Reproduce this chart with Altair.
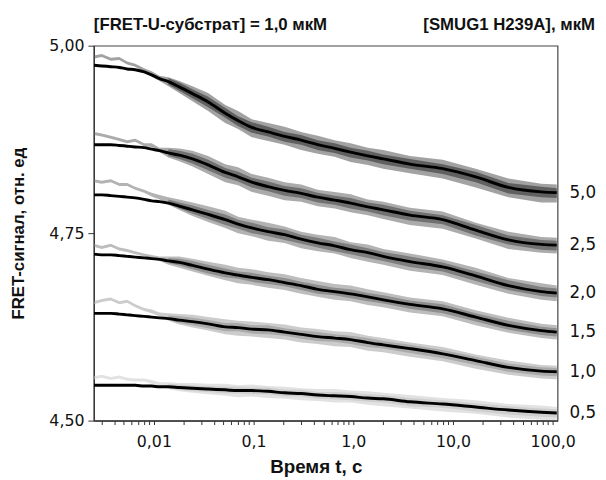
import altair as alt
import pandas as pd

# ---- data ----
times = [0.0025, 0.003, 0.0037, 0.0045, 0.0054, 0.0065, 0.008, 0.0095, 0.0114, 0.014,
         0.018, 0.0244, 0.035, 0.052, 0.07, 0.096, 0.14, 0.205, 0.3, 0.44,
         0.65, 0.94, 1.4, 2.0, 3.7, 7.9, 16.9, 36, 77, 110]

conc_labels = ["5,0", "2,5", "2,0", "1,5", "1,0", "0,5"]

fit_50 = [4.974, 4.973, 4.972, 4.971, 4.969, 4.968, 4.965, 4.961, 4.956, 4.952,
          4.945, 4.936, 4.925, 4.910, 4.900, 4.891, 4.885, 4.879, 4.874, 4.868,
          4.863, 4.858, 4.853, 4.849, 4.842, 4.836, 4.825, 4.811, 4.805, 4.804]
fit_25 = [4.868, 4.868, 4.868, 4.867, 4.866, 4.865, 4.864, 4.862, 4.860, 4.857,
          4.854, 4.849, 4.841, 4.831, 4.825, 4.818, 4.812, 4.807, 4.803, 4.798,
          4.794, 4.790, 4.785, 4.781, 4.774, 4.768, 4.754, 4.741, 4.735, 4.734]
fit_20 = [4.801, 4.801, 4.800, 4.799, 4.798, 4.797, 4.795, 4.793, 4.792, 4.790,
          4.786, 4.781, 4.775, 4.768, 4.762, 4.757, 4.752, 4.748, 4.742, 4.737,
          4.733, 4.728, 4.724, 4.719, 4.712, 4.705, 4.693, 4.680, 4.672, 4.670]
fit_15 = [4.722, 4.721, 4.721, 4.720, 4.719, 4.718, 4.717, 4.716, 4.715, 4.713,
          4.711, 4.707, 4.702, 4.697, 4.694, 4.691, 4.688, 4.684, 4.680, 4.675,
          4.672, 4.669, 4.665, 4.661, 4.655, 4.649, 4.638, 4.627, 4.620, 4.618]
fit_10 = [4.643, 4.643, 4.643, 4.642, 4.641, 4.640, 4.639, 4.638, 4.637, 4.636,
          4.634, 4.632, 4.629, 4.625, 4.624, 4.622, 4.621, 4.618, 4.615, 4.612,
          4.610, 4.608, 4.604, 4.601, 4.596, 4.589, 4.580, 4.571, 4.566, 4.565]
fit_05 = [4.547, 4.547, 4.547, 4.547, 4.547, 4.547, 4.546, 4.546, 4.545, 4.545,
          4.544, 4.543, 4.542, 4.541, 4.540, 4.540, 4.539, 4.537, 4.536, 4.534,
          4.533, 4.532, 4.530, 4.529, 4.525, 4.522, 4.518, 4.514, 4.511, 4.510]

# outer envelope of the raw signal (spikes), measured from the fitted curve
top_50 = [0.013, 0.016, 0.012, 0.014, 0.010, 0.008, 0.005, 0.005, 0.004, 0.006, 0.008, 0.010,
          0.012, 0.011, 0.013, 0.011, 0.012, 0.013, 0.011, 0.012, 0.011, 0.012, 0.011, 0.012,
          0.011, 0.012, 0.011, 0.012, 0.011, 0.011]
bot_50 = [0.009, 0.012, 0.008, 0.010, 0.006, 0.004, 0.000, -0.002, -0.003, -0.006, -0.008, -0.010,
          -0.012, -0.013, -0.011, -0.013, -0.012, -0.011, -0.013, -0.012, -0.011, -0.013, -0.012, -0.013,
          -0.012, -0.013, -0.014, -0.013, -0.014, -0.013]
top_25 = [0.017, 0.015, 0.012, 0.010, 0.008, 0.011, 0.006, 0.008, 0.004, 0.007, 0.009, 0.011,
          0.012, 0.011, 0.013, 0.011, 0.012, 0.011, 0.012, 0.010, 0.011, 0.012, 0.010, 0.011,
          0.010, 0.011, 0.010, 0.011, 0.010, 0.010]
bot_25 = [0.013, 0.011, 0.008, 0.006, 0.004, 0.007, 0.002, 0.003, -0.002, -0.006, -0.008, -0.010,
          -0.012, -0.013, -0.011, -0.013, -0.012, -0.013, -0.011, -0.012, -0.011, -0.012, -0.011, -0.012,
          -0.013, -0.012, -0.011, -0.012, -0.011, -0.011]
top_20 = [0.021, 0.019, 0.022, 0.018, 0.019, 0.015, 0.013, 0.011, 0.009, 0.008, 0.009, 0.010,
          0.011, 0.012, 0.010, 0.011, 0.012, 0.011, 0.010, 0.011, 0.012, 0.010, 0.011, 0.010,
          0.011, 0.010, 0.011, 0.010, 0.011, 0.010]
bot_20 = [0.017, 0.015, 0.018, 0.014, 0.015, 0.011, 0.009, 0.006, 0.003, -0.002, -0.005, -0.008,
          -0.010, -0.011, -0.012, -0.011, -0.012, -0.011, -0.012, -0.011, -0.010, -0.011, -0.012, -0.011,
          -0.012, -0.011, -0.012, -0.011, -0.011, -0.011]
top_15 = [0.014, 0.012, 0.015, 0.011, 0.010, 0.008, 0.006, 0.005, 0.004, 0.006, 0.008, 0.009,
          0.010, 0.011, 0.010, 0.011, 0.010, 0.011, 0.010, 0.011, 0.010, 0.011, 0.010, 0.010,
          0.009, 0.010, 0.009, 0.010, 0.009, 0.009]
bot_15 = [0.010, 0.008, 0.011, 0.007, 0.006, 0.004, 0.002, 0.000, -0.002, -0.005, -0.007, -0.008,
          -0.009, -0.010, -0.011, -0.010, -0.011, -0.010, -0.011, -0.010, -0.011, -0.010, -0.011, -0.010,
          -0.011, -0.010, -0.011, -0.010, -0.010, -0.010]
top_10 = [0.016, 0.019, 0.021, 0.017, 0.020, 0.015, 0.011, 0.010, 0.007, 0.007, 0.008, 0.009,
          0.009, 0.010, 0.009, 0.010, 0.009, 0.010, 0.009, 0.010, 0.009, 0.010, 0.009, 0.009,
          0.008, 0.009, 0.008, 0.009, 0.008, 0.008]
bot_10 = [0.012, 0.015, 0.017, 0.013, 0.016, 0.011, 0.007, 0.005, 0.002, -0.003, -0.006, -0.008,
          -0.009, -0.010, -0.011, -0.010, -0.011, -0.010, -0.011, -0.010, -0.011, -0.010, -0.011, -0.010,
          -0.011, -0.010, -0.011, -0.010, -0.010, -0.010]
top_05 = [0.012, 0.014, 0.011, 0.013, 0.010, 0.009, 0.010, 0.008, 0.006, 0.006, 0.006, 0.007,
          0.007, 0.008, 0.007, 0.008, 0.007, 0.008, 0.007, 0.008, 0.009, 0.008, 0.009, 0.008,
          0.009, 0.008, 0.009, 0.008, 0.009, 0.008]
bot_05 = [0.008, 0.010, 0.007, 0.009, 0.006, 0.005, 0.006, 0.003, 0.001, -0.003, -0.005, -0.006,
          -0.007, -0.008, -0.009, -0.008, -0.009, -0.008, -0.009, -0.008, -0.009, -0.008, -0.009, -0.010,
          -0.009, -0.010, -0.009, -0.010, -0.010, -0.010]

# dense core of the raw signal, from t = 0.014 s on (measured from the fitted curve)
core_times = [0.014, 0.018, 0.0244, 0.035, 0.052, 0.07, 0.096, 0.14, 0.205, 0.3, 0.44,
              0.65, 0.94, 1.4, 2.0, 3.7, 7.9, 16.9, 36, 77, 110]
core_top_50 = [0.005, 0.006, 0.006, 0.007, 0.007, 0.006, 0.007, 0.007, 0.006, 0.007, 0.006,
               0.007, 0.006, 0.007, 0.006, 0.007, 0.006, 0.007, 0.006, 0.007, 0.006]
core_bot_50 = [-0.004, -0.005, -0.006, -0.007, -0.006, -0.007, -0.007, -0.006, -0.007, -0.006, -0.007,
               -0.006, -0.007, -0.006, -0.007, -0.006, -0.007, -0.007, -0.008, -0.007, -0.007]
core_top_25 = [0.005, 0.006, 0.007, 0.007, 0.006, 0.007, 0.006, 0.007, 0.006, 0.007, 0.006,
               0.006, 0.007, 0.006, 0.007, 0.006, 0.006, 0.007, 0.006, 0.006, 0.006]
core_bot_25 = [-0.004, -0.005, -0.006, -0.007, -0.007, -0.006, -0.007, -0.006, -0.007, -0.006, -0.007,
               -0.006, -0.007, -0.006, -0.007, -0.007, -0.006, -0.007, -0.006, -0.007, -0.007]
core_top_20 = [0.005, 0.005, 0.006, 0.006, 0.007, 0.006, 0.007, 0.006, 0.007, 0.006, 0.007,
               0.006, 0.007, 0.006, 0.006, 0.007, 0.006, 0.006, 0.007, 0.006, 0.006]
core_bot_20 = [-0.001, -0.003, -0.005, -0.006, -0.007, -0.006, -0.007, -0.006, -0.007, -0.006, -0.006,
               -0.007, -0.006, -0.007, -0.006, -0.007, -0.006, -0.007, -0.006, -0.006, -0.006]
core_top_15 = [0.004, 0.005, 0.006, 0.006, 0.006, 0.005, 0.006, 0.005, 0.006, 0.005, 0.006,
               0.005, 0.006, 0.005, 0.006, 0.005, 0.006, 0.005, 0.006, 0.005, 0.005]
core_bot_15 = [-0.003, -0.004, -0.005, -0.006, -0.006, -0.005, -0.006, -0.006, -0.005, -0.006, -0.006,
               -0.005, -0.006, -0.006, -0.005, -0.006, -0.006, -0.006, -0.006, -0.006, -0.006]
core_top_10 = [0.004, 0.005, 0.005, 0.005, 0.005, 0.006, 0.005, 0.006, 0.005, 0.005, 0.006,
               0.005, 0.005, 0.006, 0.005, 0.005, 0.005, 0.005, 0.005, 0.005, 0.005]
core_bot_10 = [-0.002, -0.004, -0.005, -0.006, -0.006, -0.005, -0.006, -0.006, -0.005, -0.006, -0.006,
               -0.005, -0.006, -0.006, -0.005, -0.006, -0.006, -0.006, -0.006, -0.006, -0.006]
core_top_05 = [0.004, 0.004, 0.004, 0.004, 0.004, 0.005, 0.004, 0.005, 0.004, 0.005, 0.004,
               0.005, 0.005, 0.005, 0.005, 0.005, 0.005, 0.005, 0.005, 0.005, 0.005]
core_bot_05 = [-0.002, -0.003, -0.004, -0.004, -0.005, -0.004, -0.005, -0.004, -0.005, -0.004, -0.005,
               -0.005, -0.005, -0.005, -0.005, -0.006, -0.005, -0.006, -0.006, -0.006, -0.006]

x_tick_values = [0.003, 0.004, 0.005, 0.006, 0.007, 0.008, 0.009,
                 0.01, 0.02, 0.03, 0.04, 0.05, 0.06, 0.07, 0.08, 0.09,
                 0.1, 0.2, 0.3, 0.4, 0.5, 0.6, 0.7, 0.8, 0.9,
                 1, 2, 3, 4, 5, 6, 7, 8, 9,
                 10, 20, 30, 40, 50, 60, 70, 80, 90, 100]
x_major = [0.01, 0.1, 1, 10, 100]
x_major_labels = ["0,01", "0,1", "1,0", "10,0", "100,0"]
y_tick_values = [4.5, 4.75, 5.0]

title_left = "[FRET-U-субстрат] = 1,0 мкМ"
title_right = "[SMUG1 H239A], мкМ"
x_title = "Время t, с"
y_title = "FRET-сигнал, отн. ед"

band_colors = ["#555555", "#666666", "#747474", "#878787", "#a3a3a3", "#cbcbcb"]

# ---- tables ----
fits = [fit_50, fit_25, fit_20, fit_15, fit_10, fit_05]
tops = [top_50, top_25, top_20, top_15, top_10, top_05]
bots = [bot_50, bot_25, bot_20, bot_15, bot_10, bot_05]
core_tops = [core_top_50, core_top_25, core_top_20, core_top_15, core_top_10, core_top_05]
core_bots = [core_bot_50, core_bot_25, core_bot_20, core_bot_15, core_bot_10, core_bot_05]

rows = []
for name, f_arr, t_arr, b_arr in zip(conc_labels, fits, tops, bots):
    for t, f, up, dn in zip(times, f_arr, t_arr, b_arr):
        rows.append({"trace": name, "t": t, "fit": f, "hi": f + up, "lo": f + dn})
df = pd.DataFrame(rows)

core_rows = []
n_skip = len(times) - len(core_times)
for name, f_arr, t_arr, b_arr in zip(conc_labels, fits, core_tops, core_bots):
    for t, f, up, dn in zip(core_times, f_arr[n_skip:], t_arr, b_arr):
        core_rows.append({"trace": name, "t": t, "hi": f + up, "lo": f + dn})
core_df = pd.DataFrame(core_rows)

lab_df = pd.DataFrame({"trace": conc_labels, "y": [f[-1] for f in fits]})
left_df = pd.DataFrame({"txt": [title_left]})
right_df = pd.DataFrame({"txt": [title_right]})

x_label_expr = " : ".join(
    f"datum.value == {v} ? '{l}'" for v, l in zip(x_major, x_major_labels)
) + " : ''"

xscale = alt.Scale(type="log", domain=[0.0025, 112], nice=False)
yscale = alt.Scale(domain=[4.5, 5.0], nice=False, zero=False)
cscale = alt.Scale(domain=conc_labels, range=band_colors)

x_axis = alt.Axis(values=x_tick_values, labelExpr=x_label_expr, title=x_title,
                  titleFontSize=19, titleX=225, titleY=47, titleAlign="center",
                  titleBaseline="middle", tickSize=4, labelPadding=9,
                  labelOverlap=False, labelFlush=False, labelBound=False)
y_axis = alt.Axis(values=y_tick_values,
                  labelExpr="replace(format(datum.value, '.2f'), '.', ',')",
                  title=y_title, titleFontSize=17, titleX=-76, titleY=190,
                  titleAngle=270, titleAlign="center", titleBaseline="middle",
                  tickSize=6, labelPadding=4)

outer = alt.Chart(df).mark_area(opacity=0.55, clip=True).encode(
    x=alt.X("t:Q", scale=xscale, axis=x_axis),
    y=alt.Y("hi:Q", scale=yscale, axis=y_axis),
    y2="lo:Q",
    color=alt.Color("trace:N", scale=cscale, legend=None),
)

core = alt.Chart(core_df).mark_area(opacity=0.85, clip=True).encode(
    x=alt.X("t:Q", scale=xscale),
    y=alt.Y("hi:Q", scale=yscale),
    y2="lo:Q",
    color=alt.Color("trace:N", scale=cscale, legend=None),
)

lines = alt.Chart(df).mark_line(color="black", strokeWidth=3, interpolate="monotone", clip=True).encode(
    x=alt.X("t:Q", scale=xscale),
    y=alt.Y("fit:Q", scale=yscale),
    detail="trace:N",
)

labels = alt.Chart(lab_df).mark_text(align="left", baseline="middle", font="DejaVu Sans",
                                     fontSize=17, color="#111").encode(
    x=alt.value(482),
    y=alt.Y("y:Q", scale=yscale),
    text="trace:N",
)

t_left = alt.Chart(left_df).mark_text(align="left", baseline="middle", font="Liberation Sans",
                                      fontWeight="bold", fontSize=17, color="#111").encode(
    x=alt.value(0), y=alt.value(-21), text="txt:N")
t_right = alt.Chart(right_df).mark_text(align="right", baseline="middle", font="Liberation Sans",
                                        fontWeight="bold", fontSize=17, color="#111").encode(
    x=alt.value(508), y=alt.value(-21), text="txt:N")

chart = alt.layer(outer, core, lines, labels, t_left, t_right).properties(
    width=470, height=380,
    autosize=alt.AutoSizeParams(type="none"),
    padding={"left": 87, "top": 35, "right": 41, "bottom": 55},
).configure_axis(
    labelFont="DejaVu Sans", labelFontSize=16, labelColor="#111",
    titleFont="Liberation Sans", titleFontWeight="bold", titleColor="#111",
    domainColor="#333", tickColor="#333", domainWidth=1.2, grid=False,
).configure_view(stroke="#444", strokeWidth=1.2)

chart.save("out.html", embed_options={"renderer": "svg", "actions": False})
